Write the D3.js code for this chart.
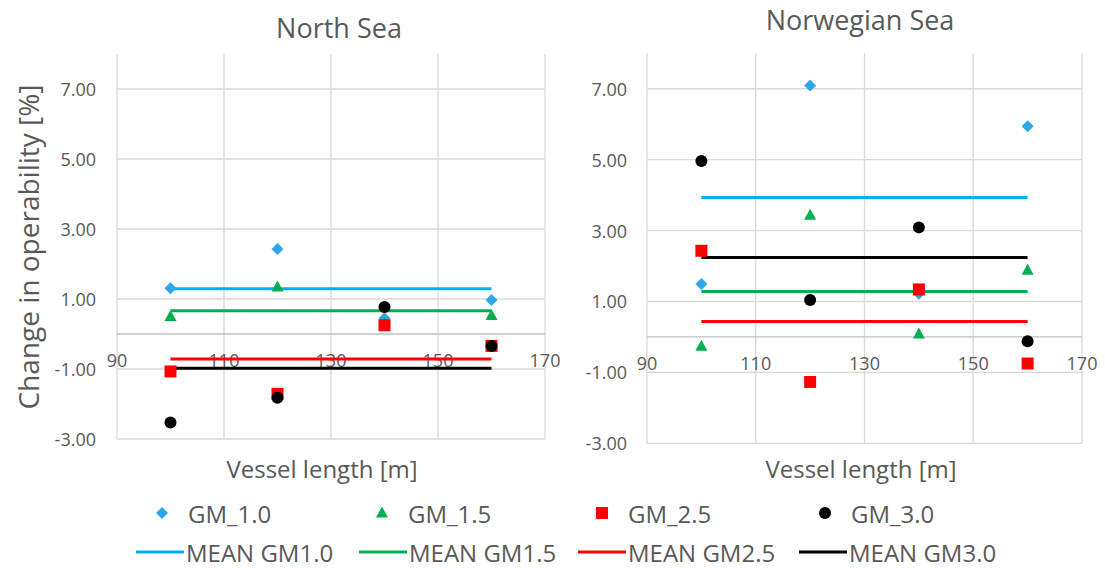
<!DOCTYPE html>
<html>
<head>
<meta charset="utf-8">
<script src="https://cdn.jsdelivr.net/npm/d3@7"></script>
<style>
  html, body { margin: 0; padding: 0; background: #fff; }
  svg { display: block; font-family: "Open Sans", "Noto Sans", sans-serif; }
</style>
</head>
<body>
<svg id="chart" width="1105" height="568"></svg>
<script>
// Vessel lengths [m] shared by both regions
const lengths = [100, 120, 140, 160];

// Series labels
const seriesNames = ["GM_1.0", "GM_1.5", "GM_2.5", "GM_3.0"];
const meanNames = ["MEAN GM1.0", "MEAN GM1.5", "MEAN GM2.5", "MEAN GM3.0"];

// Axis ticks
const xTicks = [90, 110, 130, 150, 170];
const yTicks = [-3, -1, 1, 3, 5, 7];

// North Sea: change in operability [%]
const northGM10 = [1.31, 2.43, 0.45, 0.97];
const northGM15 = [0.50, 1.34, 0.30, 0.53];
const northGM25 = [-1.07, -1.71, 0.25, -0.34];
const northGM30 = [-2.53, -1.82, 0.77, -0.34];

// Norwegian Sea: change in operability [%]
const norwGM10 = [1.49, 7.09, 1.22, 5.94];
const norwGM15 = [-0.26, 3.43, 0.08, 1.88];
const norwGM25 = [2.43, -1.27, 1.34, -0.75];
const norwGM30 = [4.96, 1.04, 3.09, -0.12];

const markerColors = ["#2ea6ea", "#00b050", "#ff0000", "#000000"];
const lineColors = ["#00b0f0", "#00b050", "#ff0000", "#000000"];
const markerShapes = ["diamond", "triangle", "square", "circle"];

const textColor = "#595959";
const gridColor = "#d9d9d9";
const fmt = v => d3.format(".2f")(v).replace("\u2212", "-");

const svg = d3.select("#chart");

function markerPath(shape) {
  const p = d3.path();
  if (shape === "diamond") {
    const r = 6;
    p.moveTo(0, -r); p.lineTo(r, 0); p.lineTo(0, r); p.lineTo(-r, 0); p.closePath();
  } else if (shape === "triangle") {
    p.moveTo(0, -6.5); p.lineTo(6, 4.5); p.lineTo(-6, 4.5); p.closePath();
  } else if (shape === "square") {
    p.rect(-6, -6, 12, 12);
  } else {
    p.arc(0, 0, 6, 0, 2 * Math.PI);
  }
  return p.toString();
}

function drawPanel(cfg) {
  const x = d3.scaleLinear().domain([90, 170]).range([cfg.left, cfg.right]);
  const y = d3.scaleLinear().domain([-3, 8]).range([cfg.bottom, cfg.top]);
  const g = svg.append("g");

  // vertical gridlines (run to the top of the plot area)
  g.append("g").selectAll("line").data(xTicks).join("line")
    .attr("x1", d => x(d)).attr("x2", d => x(d))
    .attr("y1", y(8)).attr("y2", y(-3))
    .attr("stroke", gridColor).attr("stroke-width", 1.3);

  // horizontal gridlines
  g.append("g").selectAll("line").data(yTicks).join("line")
    .attr("x1", x(90)).attr("x2", x(170))
    .attr("y1", d => y(d)).attr("y2", d => y(d))
    .attr("stroke", gridColor).attr("stroke-width", 1.3);

  // horizontal axis crossing at zero
  g.append("line")
    .attr("x1", x(90)).attr("x2", x(170))
    .attr("y1", y(0)).attr("y2", y(0))
    .attr("stroke", "#bfbfbf").attr("stroke-width", 1.3);

  // y tick labels
  g.append("g").selectAll("text").data(yTicks).join("text")
    .attr("x", cfg.yLabelX).attr("y", d => y(d))
    .attr("text-anchor", "end").attr("dominant-baseline", "central")
    .attr("font-size", 18).attr("fill", textColor)
    .text(d => fmt(d));

  // x tick labels sit just below the zero axis
  g.append("g").selectAll("text").data(xTicks).join("text")
    .attr("x", d => x(d)).attr("y", y(0) + 26)
    .attr("text-anchor", "middle").attr("dominant-baseline", "central")
    .attr("font-size", 18).attr("fill", textColor)
    .text(d => d);

  // mean lines across the vessel lengths
  const line = d3.line().x(d => x(d[0])).y(d => y(d[1]));
  cfg.series.forEach((vals, i) => {
    const m = d3.mean(vals);
    const ends = [[d3.min(lengths), m], [d3.max(lengths), m]];
    g.append("path").datum(ends)
      .attr("d", line)
      .attr("fill", "none").attr("stroke", lineColors[i]).attr("stroke-width", 3);
  });

  // markers
  cfg.series.forEach((vals, i) => {
    g.append("g").selectAll("path").data(vals).join("path")
      .attr("transform", (d, j) => `translate(${x(lengths[j])},${y(d)})`)
      .attr("d", markerPath(markerShapes[i]))
      .attr("fill", markerColors[i]);
  });

  // titles
  g.append("text")
    .attr("x", cfg.titleX).attr("y", cfg.titleY)
    .attr("text-anchor", "middle").attr("font-size", 27).attr("fill", textColor)
    .text(cfg.title);
  g.append("text")
    .attr("x", cfg.xTitleX).attr("y", 478)
    .attr("text-anchor", "middle").attr("font-size", 24).attr("fill", textColor)
    .text("Vessel length [m]");
}

drawPanel({
  title: "North Sea", titleX: 339, titleY: 38,
  left: 117, right: 545, top: 54, bottom: 439,
  yLabelX: 96, xTitleX: 322,
  series: [northGM10, northGM15, northGM25, northGM30]
});

drawPanel({
  title: "Norwegian Sea", titleX: 860, titleY: 30,
  left: 647, right: 1082, top: 53.3, bottom: 443.3,
  yLabelX: 627, xTitleX: 861,
  series: [norwGM10, norwGM15, norwGM25, norwGM30]
});

// y-axis title
svg.append("text")
  .attr("transform", "translate(28,247) rotate(-90)")
  .attr("text-anchor", "middle").attr("dominant-baseline", "central")
  .attr("font-size", 28).attr("fill", textColor)
  .text("Change in operability [%]");

// legend
const legendMarkerX = [162, 382, 602, 825];
const legendLineX = [136, 359, 578, 799];
const legend = svg.append("g");
seriesNames.forEach((name, i) => {
  legend.append("path")
    .attr("transform", `translate(${legendMarkerX[i]},513)`)
    .attr("d", markerPath(markerShapes[i]))
    .attr("fill", markerColors[i]);
  legend.append("text")
    .attr("x", legendMarkerX[i] + 26).attr("y", 513)
    .attr("dominant-baseline", "central")
    .attr("font-size", 24).attr("fill", textColor)
    .text(name);
});
meanNames.forEach((name, i) => {
  legend.append("line")
    .attr("x1", legendLineX[i]).attr("x2", legendLineX[i] + 48)
    .attr("y1", 552).attr("y2", 552)
    .attr("stroke", lineColors[i]).attr("stroke-width", 3);
  legend.append("text")
    .attr("x", legendLineX[i] + 50).attr("y", 552)
    .attr("dominant-baseline", "central")
    .attr("font-size", 24).attr("fill", textColor)
    .text(name);
});
</script>
</body>
</html>
